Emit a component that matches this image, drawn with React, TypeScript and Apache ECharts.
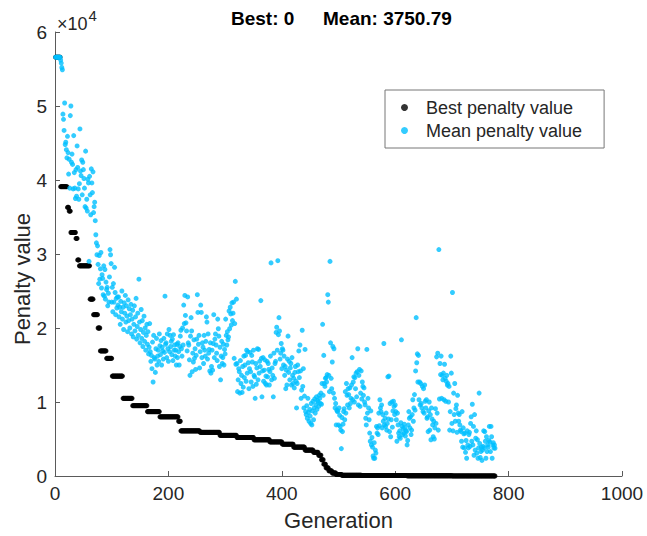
import React, { useEffect, useRef } from "react";
import * as echarts from "echarts";

// Axis ticks (y values are shown in units of 10^4, as in the reference)
const xTicks = [0, 200, 400, 600, 800, 1000];
const yTicks = [0, 1, 2, 3, 4, 5, 6];
const titleBest = "Best: 0";
const titleMean = "Mean: 3750.79";
const seriesNames = ["Best penalty value", "Mean penalty value"];

// Best penalty (×10^4), as runs: value held for the given number of generations
const bestRunValues = [5.66, 3.91, 3.63, 3.58, 3.29, 3.21, 2.92, 2.84, 2.39, 2.18, 2.0, 1.69, 1.59, 1.35, 1.05, 0.95, 0.87, 0.8, 0.74, 0.61, 0.59, 0.55, 0.52, 0.49, 0.46, 0.43, 0.39, 0.35, 0.32, 0.28, 0.22, 0.16, 0.11, 0.07, 0.04, 0.02, 0.01, 0.006, 0.003, 0.001, 0];
const bestRunLengths = [9, 12, 3, 3, 9, 3, 3, 19, 6, 8, 4, 11, 10, 19, 17, 26, 22, 33, 4, 34, 35, 30, 30, 28, 22, 20, 20, 15, 9, 5, 4, 4, 5, 6, 7, 10, 35, 80, 80, 75, 1];

// Mean penalty (×10^4), one value per generation starting at generation 1
const meanPenaltyE4 = [
  5.66, 5.66, 5.66, 5.66, 5.66, 5.66, 5.66, 5.66, 5.66, 5.62,
  5.58, 5.52, 5.49, 4.89, 4.82, 4.67, 5.04, 4.48, 4.51, 4.41,
  4.30, 4.59, 4.37, 4.08, 4.28, 3.89, 4.87, 5.00, 4.24, 4.35,
  4.21, 3.88, 4.60, 4.10, 3.89, 3.75, 4.14, 3.78, 4.46, 4.17,
  3.88, 3.74, 3.95, 4.69, 4.12, 4.06, 4.27, 3.80, 4.24, 4.14,
  4.02, 3.89, 3.64, 4.39, 3.62, 3.74, 3.58, 4.01, 3.96, 2.90,
  4.05, 3.80, 3.53, 4.15, 3.96, 3.83, 4.11, 3.56, 3.64, 3.70,
  3.45, 3.26, 3.15, 2.99, 3.11, 2.86, 2.60, 2.98, 2.66, 2.80,
  3.02, 2.54, 2.72, 2.67, 2.45, 2.84, 2.43, 2.79, 2.39, 2.62,
  2.52, 2.55, 2.30, 2.47, 2.35, 2.69, 3.06, 2.99, 2.87, 2.35,
  2.55, 2.22, 2.60, 2.35, 2.82, 2.48, 2.18, 2.40, 2.27, 2.42,
  2.31, 2.42, 2.15, 2.28, 2.05, 2.36, 2.22, 2.50, 2.12, 2.28,
  1.98, 2.34, 2.20, 2.44, 2.08, 2.30, 2.16, 1.95, 2.38, 2.10,
  2.26, 2.00, 2.18, 2.32, 1.92, 2.12, 2.24, 1.88, 2.05, 2.30,
  1.96, 2.15, 2.40, 1.85, 2.02, 2.20, 1.90, 2.66, 2.08, 1.80,
  1.98, 2.25, 1.86, 2.10, 1.75, 1.94, 2.16, 1.82, 2.00, 1.70,
  1.90, 2.05, 1.78, 1.95, 1.65,
  1.74, 2.06, 1.68, 1.55, 1.63, 1.45, 1.81, 1.27, 1.90, 1.60,
  1.58, 1.40, 1.72, 1.86, 1.50, 1.62, 1.70, 1.55, 1.92, 1.76,
  1.64, 1.83, 1.50, 1.74, 1.69, 1.58, 1.86, 1.67, 2.43, 1.78,
  1.80, 1.60, 1.92, 1.72, 1.55, 1.98, 1.68, 1.90, 1.75, 1.82,
  1.64, 1.85, 1.56, 1.91, 1.70, 1.77, 1.62, 1.70, 1.50, 1.78,
  1.60, 1.80, 1.68, 1.50, 1.75, 1.89, 1.97, 1.72, 1.62, 2.00,
  1.77, 2.31, 2.06, 2.44, 2.17, 2.07, 1.96, 1.69, 2.42, 1.80,
  1.77, 1.57, 1.36, 1.89, 2.14, 1.96, 1.41, 1.66, 1.54, 1.84,
  1.59, 1.72, 1.44, 1.63, 1.85, 2.45, 2.21, 1.78, 1.90, 1.46,
  1.68, 2.31, 2.21, 1.60, 1.80, 1.74, 1.52, 1.90, 1.70, 1.62,
  1.82, 2.15, 2.08, 1.58, 1.92, 1.66, 1.71, 1.42, 1.80, 1.39,
  1.48, 1.70, 1.43, 1.79, 2.18, 1.60, 1.85, 1.92, 1.77, 1.66,
  1.56, 2.12, 1.99, 1.89, 1.48, 1.74, 1.30, 1.62, 1.82, 1.52,
  1.60, 1.78, 1.50, 1.71, 1.65, 2.12, 1.90, 1.77, 1.95, 1.84,
  1.88, 2.23, 1.99, 2.28, 2.19, 2.04, 2.34, 2.10, 2.20, 2.35,
  1.59, 2.06, 2.63, 1.51, 2.39,
  1.52, 1.14, 1.30, 1.45, 1.41, 1.12, 1.56, 1.25, 1.36, 1.13,
  1.48, 1.20, 1.62, 1.33, 1.50, 1.63, 1.28, 1.70, 1.39, 1.68,
  1.53, 1.18, 1.45, 1.67, 1.41, 1.27, 1.63, 1.54, 1.21, 1.70,
  1.36, 1.34, 1.05, 1.52, 1.24, 1.46, 1.72, 1.30, 1.71, 1.39,
  1.55, 1.48, 2.37, 1.59, 1.07, 1.42, 1.60, 1.28, 1.43, 1.57,
  1.25, 1.35, 1.23, 1.55, 1.34, 1.52, 1.44, 1.23, 1.41, 1.62,
  2.88, 1.30, 1.46, 1.36, 1.07, 1.66, 1.32, 1.52, 1.55, 1.94,
  2.01, 1.70, 2.91, 1.91, 2.14,
  1.96, 1.58, 1.66, 1.79, 1.45, 1.72, 1.70, 1.50, 1.62, 1.36,
  1.48, 1.18, 1.43, 1.23, 1.58, 1.89, 1.40, 1.55, 1.30, 1.46,
  1.52, 1.23, 1.60, 1.36, 1.25, 1.32, 1.19, 1.40, 1.48,
  1.28, 0.92, 1.25, 1.50, 1.41, 1.69, 1.33, 1.77, 1.42, 1.05, 1.16, 1.97, 1.21,
  1.45, 0.92, 1.08, 1.71, 0.87, 0.83, 0.95, 0.78, 1.05, 0.86,
  0.74, 0.90, 0.81, 0.71, 0.98, 0.69, 0.88, 1.01, 0.76, 0.92,
  1.04, 0.85, 0.96, 1.07, 0.90, 1.02, 1.00, 0.94, 1.09, 1.05,
  0.98, 1.12, 0.97, 1.25, 2.05, 1.09, 1.63, 1.25, 1.21, 1.32,
  1.33, 1.27, 1.37, 2.45, 2.35, 1.36, 1.14, 2.90, 1.80, 1.32,
  1.18, 1.54, 1.75, 1.12, 1.72, 1.05, 0.92, 0.98, 0.69, 0.89,
  0.87, 0.88, 0.69,
  0.92, 0.82, 0.67, 0.62, 0.37, 0.79, 0.60, 0.70, 0.87, 0.91,
  0.76, 1.14, 0.85, 1.25, 1.09, 0.96, 1.18, 1.10, 0.92, 1.19,
  0.98, 1.05, 1.23, 1.60, 1.03, 1.27, 1.34, 1.00, 1.33, 1.18,
  1.39, 1.07, 1.41, 1.72, 0.96, 1.36, 1.44, 0.94, 1.12, 1.42,
  1.04, 1.27, 1.21, 1.09, 1.19, 1.00, 0.96, 0.78, 0.69, 1.71,
  0.85, 1.05, 0.92, 0.76, 0.58, 0.47, 0.88, 0.42, 0.52, 0.39,
  0.27, 0.24, 0.45, 0.24, 0.35, 0.31, 0.67, 0.58, 0.65, 0.56,
  0.85, 0.68, 1.03, 0.92, 0.87,
  0.96, 0.65, 0.83, 0.74, 1.79, 0.69, 0.78, 0.67, 0.85, 0.62,
  0.71, 1.34, 0.77, 1.35, 0.60, 0.98, 0.53, 0.76, 1.00, 0.66,
  0.88, 1.01, 0.94, 0.83, 0.96, 0.87, 0.76, 0.47, 0.85, 0.69,
  0.58, 0.53, 0.61, 0.51, 0.72, 1.84, 0.67, 0.56, 0.64, 0.58,
  0.70, 0.65, 0.54, 0.61, 0.60, 0.42, 0.48, 0.69, 0.87, 0.78,
  0.65, 0.80, 0.56, 0.62, 0.83, 1.03, 0.74, 0.92, 1.10, 0.89,
  1.42, 2.14, 1.53, 1.65, 1.27, 1.63, 1.03, 1.27, 0.96, 1.25,
  0.98, 0.92, 1.21, 0.87, 1.18, 0.85, 1.23, 1.01, 0.92, 1.03,
  0.78, 0.80, 0.60, 0.88, 1.00, 0.62, 0.83, 0.49, 0.92, 0.77,
  0.69, 0.53, 0.74, 0.50, 0.65, 0.91, 0.71, 1.61, 0.85, 1.66,
  0.62, 3.06, 1.04, 1.52, 1.37, 1.62, 1.05, 1.36, 1.30, 1.39,
  1.03, 1.51, 1.32, 1.01, 1.28, 1.36, 1.23, 1.25, 1.00, 1.21,
  0.62, 0.87, 1.62, 1.39, 0.71,
  2.48, 0.61, 1.12, 0.83, 1.25, 0.74, 0.91, 0.96, 0.59, 1.09,
  0.85, 0.74, 0.83, 0.69, 0.62, 0.60, 0.47, 0.87, 0.39, 0.65,
  0.57, 0.38, 0.58, 0.32, 0.48, 0.24, 0.61, 0.42, 0.38, 0.56,
  0.59, 0.40, 0.71, 0.80, 0.47, 0.97, 0.42, 0.67, 0.28, 0.83,
  0.35, 0.51, 0.61, 0.31, 0.49, 0.24, 0.38, 1.12, 0.44, 0.25,
  0.33, 0.39, 0.21, 0.35, 0.40, 0.61, 0.38, 0.60, 0.47, 0.24,
  0.53, 0.33, 0.42, 0.39, 0.48, 0.67, 0.46, 0.33, 0.67, 0.53,
  0.24, 0.42, 0.45, 0.38, 0.42, 0.375079,
];

const FONT = "'Liberation Sans', Arial, Helvetica, sans-serif";
const TEXT = "#262626";
const AXIS = "#5a5a5a";

function expandRuns(values: number[], lengths: number[]): number[] {
  const out: number[] = [];
  values.forEach((v, i) => {
    for (let k = 0; k < lengths[i]; k++) out.push(v);
  });
  return out;
}

export default function App() {
  const ref = useRef<HTMLDivElement>(null);
  useEffect(() => {
    const chart = echarts.init(ref.current!, null, { renderer: "svg" });
    const bestData = expandRuns(bestRunValues, bestRunLengths).map((v, i) => [i + 1, v]);
    const meanData = meanPenaltyE4.map((v, i) => [i + 1, v]);
    chart.setOption({
      animation: false,
      backgroundColor: "#ffffff",
      textStyle: { fontFamily: FONT },
      grid: { left: 55, top: 32, width: 567, height: 446, containLabel: false },
      xAxis: {
        type: "value",
        min: xTicks[0],
        max: xTicks[xTicks.length - 1],
        interval: xTicks[1] - xTicks[0],
        axisLine: { show: true, lineStyle: { color: AXIS, width: 1 } },
        axisTick: { show: true, inside: true, length: 5, lineStyle: { color: AXIS } },
        axisLabel: {
          fontSize: 19,
          color: TEXT,
          margin: 8,
          fontFamily: FONT,
          formatter: (v: number) => String(v),
        },
        splitLine: { show: false },
        name: "Generation",
        nameLocation: "middle",
        nameGap: 33,
        nameTextStyle: { fontSize: 22, color: TEXT, fontFamily: FONT },
      },
      yAxis: {
        type: "value",
        min: yTicks[0],
        max: yTicks[yTicks.length - 1],
        interval: yTicks[1] - yTicks[0],
        axisLine: { show: true, lineStyle: { color: AXIS, width: 1 } },
        axisTick: { show: true, inside: true, length: 5, lineStyle: { color: AXIS } },
        axisLabel: {
          fontSize: 19,
          color: TEXT,
          margin: 8,
          fontFamily: FONT,
          formatter: (v: number) => String(v),
        },
        splitLine: { show: false },
      },
      legend: {
        data: seriesNames,
        orient: "vertical",
        left: 385,
        top: 90,
        padding: [6, 22, 6, 16],
        itemGap: 0,
        itemWidth: 7,
        itemHeight: 7,
        icon: "circle",
        borderColor: "#777",
        borderWidth: 1,
        backgroundColor: "#fff",
        textStyle: { fontSize: 18, color: TEXT, padding: [0, 0, 0, 13], lineHeight: 23, fontFamily: FONT },
      },
      graphic: [
        { type: "text", left: 231, top: 9, style: { text: titleBest, font: `bold 19px ${FONT}`, fill: "#000" } },
        { type: "text", left: 323, top: 9, style: { text: titleMean, font: `bold 19px ${FONT}`, fill: "#000" } },
        { type: "text", left: 57, top: 15, style: { text: "×10", font: `18px ${FONT}`, fill: TEXT } },
        { type: "text", left: 88.5, top: 8, style: { text: "4", font: `15px ${FONT}`, fill: TEXT } },
        {
          type: "text",
          x: 22,
          y: 279,
          rotation: Math.PI / 2,
          style: {
            text: "Penalty value",
            font: `22px ${FONT}`,
            fill: TEXT,
            align: "center",
            verticalAlign: "middle",
          },
        },
      ],
      series: [
        {
          name: seriesNames[0],
          type: "scatter",
          data: bestData,
          symbol: "circle",
          symbolSize: 5,
          itemStyle: { color: "#000000" },
          silent: true,
        },
        {
          name: seriesNames[1],
          type: "scatter",
          data: meanData,
          symbol: "circle",
          symbolSize: 5,
          itemStyle: { color: "#00BFFF" },
          silent: true,
        },
      ],
    });
    return () => chart.dispose();
  }, []);
  return (
    <div
      ref={ref}
      style={{ position: "fixed", left: 0, top: 0, width: 647, height: 536 }}
    />
  );
}
